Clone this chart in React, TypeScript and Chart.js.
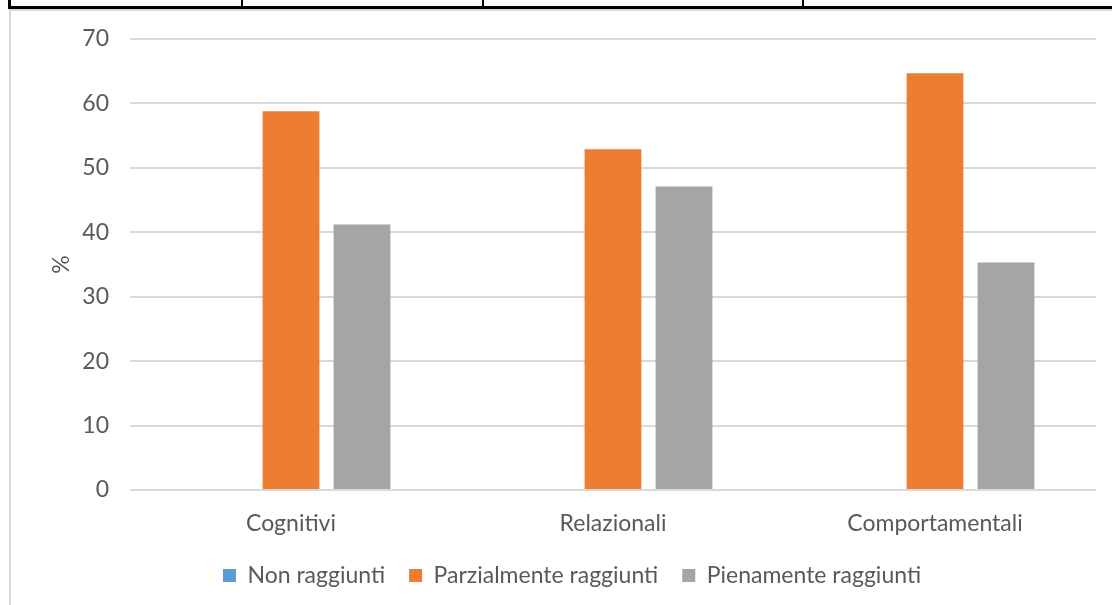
import React, { useEffect, useRef } from "react";
import { Chart, registerables } from "chart.js";

Chart.register(...registerables);

const categories = ["Cognitivi", "Relazionali", "Comportamentali"];
const seriesNames = ["Non raggiunti", "Parzialmente raggiunti", "Pienamente raggiunti"];
const nonRaggiunti = [0, 0, 0];
const parzialmente = [58.8, 52.9, 64.7];
const pienamente = [41.2, 47.1, 35.3];
const seriesColors = ["#5B9BD5", "#ED7D31", "#A5A5A5"];
const yTicks = [0, 10, 20, 30, 40, 50, 60, 70];

const FONT = "Lato, Carlito, Calibri, sans-serif";
const TEXT = "#595959";
const FS = 23;

export default function App() {
  const ref = useRef<HTMLCanvasElement | null>(null);

  useEffect(() => {
    if (!ref.current) return;
    const values = [nonRaggiunti, parzialmente, pienamente];
    const chart = new Chart(ref.current, {
      type: "bar",
      data: {
        labels: categories,
        datasets: seriesNames.map((name, i) => ({
          label: name,
          data: values[i],
          backgroundColor: seriesColors[i],
          borderWidth: 0,
          categoryPercentage: 0.6615,
          barPercentage: 0.8,
        })),
      },
      options: {
        responsive: false,
        animation: false,
        layout: { padding: { left: 48, right: 16, top: 39, bottom: 8 } },
        plugins: {
          tooltip: { enabled: false },
          legend: {
            position: "bottom",
            labels: {
              boxWidth: 13,
              boxHeight: 13,
              padding: 24,
              color: TEXT,
              font: { family: FONT, size: FS },
            },
          },
        },
        scales: {
          x: {
            afterFit: (scale: any) => {
              scale.height = 50;
            },
            grid: { display: false, drawTicks: false },
            border: { display: false },
            ticks: { color: TEXT, font: { family: FONT, size: FS }, padding: 20 },
          },
          y: {
            min: 0,
            max: 70,
            afterBuildTicks: (scale: any) => {
              scale.ticks = yTicks.map((v) => ({ value: v }));
            },
            afterFit: (scale: any) => {
              scale.width = 82;
            },
            grid: { color: "#D9D9D9", lineWidth: 2, drawTicks: false },
            border: { display: false },
            ticks: { color: TEXT, font: { family: FONT, size: FS }, padding: 21 },
            title: {
              display: true,
              text: "%",
              color: TEXT,
              font: { family: FONT, size: FS },
              padding: 0,
            },
          },
        },
      },
    });
    return () => chart.destroy();
  }, []);

  return (
    <div style={{ position: "fixed", left: 0, top: 0, width: 1112, height: 605, background: "#fff", overflow: "hidden" }}>
      <div style={{ position: "absolute", left: 8, top: 6, width: 1104, height: 3, background: "#000" }} />
      <div style={{ position: "absolute", left: 8, top: 0, width: 3, height: 9, background: "#000" }} />
      <div style={{ position: "absolute", left: 241, top: 0, width: 2, height: 7, background: "#000" }} />
      <div style={{ position: "absolute", left: 482, top: 0, width: 2, height: 7, background: "#000" }} />
      <div style={{ position: "absolute", left: 802, top: 0, width: 2, height: 7, background: "#000" }} />
      <div style={{ position: "absolute", left: 9, top: 9, width: 1103, height: 2, background: "#D9D9D9" }} />
      <div style={{ position: "absolute", left: 9, top: 9, width: 2, height: 596, background: "#D9D9D9" }} />
      <canvas ref={ref} width={1112} height={605} style={{ position: "absolute", left: 0, top: 0, width: 1112, height: 605 }} />
    </div>
  );
}
